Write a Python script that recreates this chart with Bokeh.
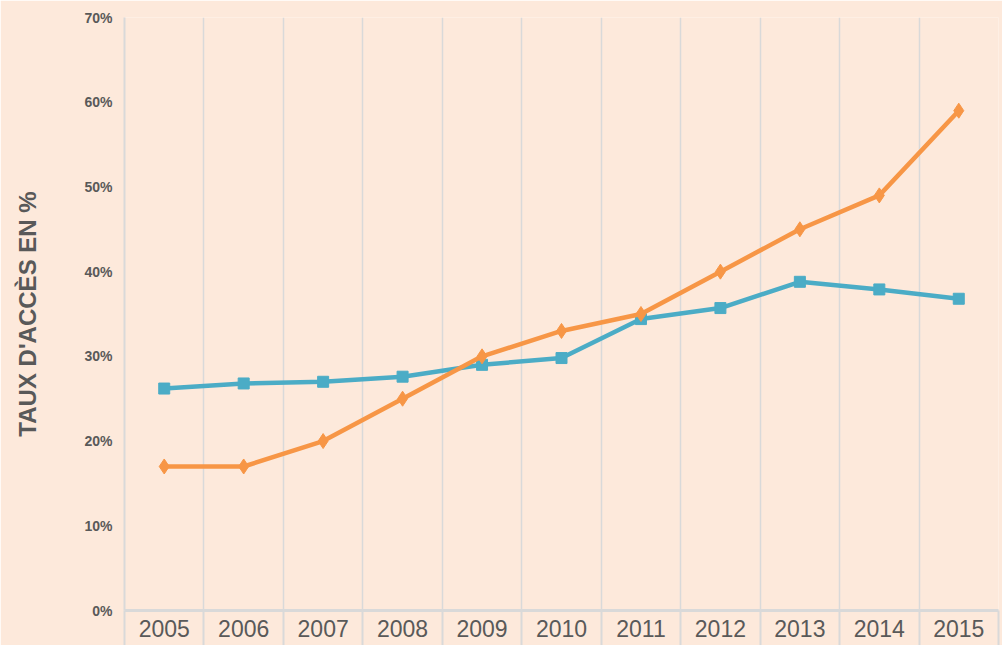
from bokeh.plotting import figure
from bokeh.models import FixedTicker, PrintfTickFormatter, Range1d
from bokeh.embed import file_html
from bokeh.resources import INLINE

years = ["2005", "2006", "2007", "2008", "2009", "2010", "2011", "2012", "2013", "2014", "2015"]
orange_vals = [17, 17, 20, 25, 30, 33, 35, 40, 45, 49, 59]
blue_vals = [26.2, 26.8, 27.0, 27.6, 29.0, 29.8, 34.4, 35.7, 38.8, 37.9, 36.8]
y_ticks = [0, 10, 20, 30, 40, 50, 60, 70]

BG = "#fde9db"
GRID = "#d9d9d9"
TXT = "#595959"
ORANGE = "#f79646"
BLUE = "#4bacc6"

xs = list(range(len(years)))

p = figure(width=1002, height=645, output_backend="svg", toolbar_location=None,
           x_range=Range1d(-0.5, len(years) - 0.5), y_range=Range1d(0, 70),
           min_border_left=124, min_border_right=4, min_border_top=17, min_border_bottom=35)
p.background_fill_color = BG
p.border_fill_color = BG
p.outline_line_color = None

# x axis
p.xaxis.ticker = FixedTicker(ticks=xs, minor_ticks=[i - 0.5 for i in range(len(years) + 1)])
p.xaxis.major_label_overrides = {i: y for i, y in enumerate(years)}
p.xaxis.major_tick_line_color = None
p.xaxis.major_tick_out = 0
p.xaxis.major_tick_in = 0
p.xaxis.minor_tick_line_color = GRID
p.xaxis.minor_tick_line_width = 2
p.xaxis.minor_tick_out = 35
p.xaxis.minor_tick_in = 0
p.xaxis.axis_line_color = GRID
p.xaxis.axis_line_width = 3
p.xaxis.major_label_text_font = "Liberation Sans"
p.xaxis.major_label_text_font_size = "23px"
p.xaxis.major_label_text_color = TXT
p.xaxis.major_label_standoff = -26

p.xgrid.grid_line_color = None
p.xgrid.minor_grid_line_color = GRID
p.xgrid.minor_grid_line_width = 1.5
p.ygrid.grid_line_color = None

# y axis
p.yaxis.ticker = FixedTicker(ticks=y_ticks)
p.yaxis.formatter = PrintfTickFormatter(format="%d%%")
p.yaxis.major_tick_line_color = None
p.yaxis.minor_tick_line_color = None
p.yaxis.major_tick_out = 0
p.yaxis.major_tick_in = 0
p.yaxis.axis_line_color = GRID
p.yaxis.axis_line_width = 2
p.yaxis.major_label_text_font = "Liberation Sans"
p.yaxis.major_label_text_font_style = "bold"
p.yaxis.major_label_text_font_size = "14px"
p.yaxis.major_label_text_color = TXT
p.yaxis.major_label_standoff = 12
p.yaxis.axis_label = "TAUX D'ACCÈS EN %"
p.yaxis.axis_label_text_font = "Liberation Sans"
p.yaxis.axis_label_text_font_style = "bold"
p.yaxis.axis_label_text_font_size = "24px"
p.yaxis.axis_label_text_color = TXT
p.yaxis.axis_label_standoff = 40

# series
p.line(xs, blue_vals, line_color=BLUE, line_width=4.5)
p.scatter(xs, blue_vals, marker="square", size=11, fill_color=BLUE, line_color=BLUE)
p.line(xs, orange_vals, line_color=ORANGE, line_width=4.5)
p.scatter(xs, orange_vals, marker="diamond", size=15, fill_color=ORANGE, line_color=ORANGE)

open("out.html", "w").write(file_html(p, INLINE))
